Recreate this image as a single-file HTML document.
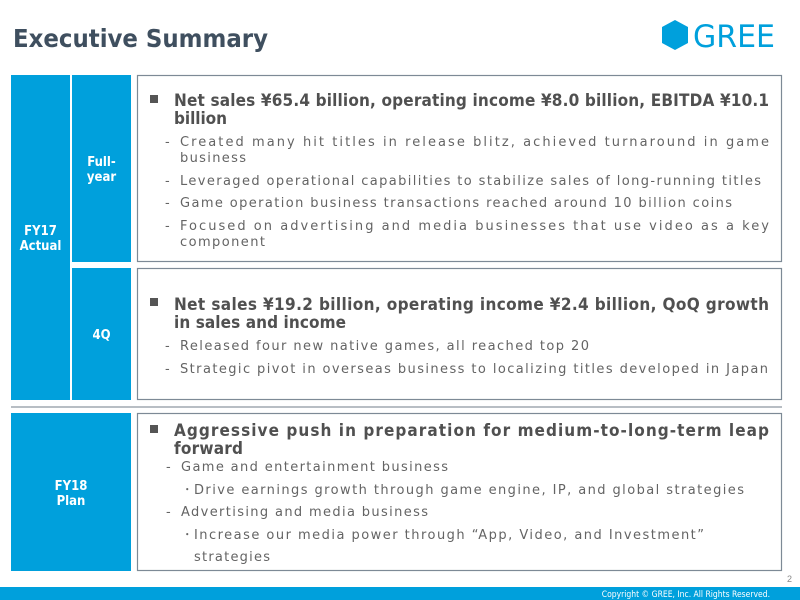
<!DOCTYPE html>
<html><head><meta charset="utf-8"><style>
html,body{margin:0;padding:0;background:#fff;width:800px;height:600px;overflow:hidden}
svg{display:block}
.h{font-family:"DejaVu Sans Condensed","Liberation Sans Narrow","Liberation Sans",sans-serif;font-weight:bold;font-size:17px;fill:#505050}
.t{font-family:"DejaVu Sans","Liberation Sans",sans-serif;font-size:13px;fill:#646464}
.w{font-family:"DejaVu Sans Condensed","Liberation Sans",sans-serif;font-weight:bold;font-size:13px;fill:#fff}
</style></head><body>
<svg width="800" height="600" viewBox="0 0 800 600" xmlns="http://www.w3.org/2000/svg">
<text x="13" y="47" textLength="255" lengthAdjust="spacingAndGlyphs" style="font-family:'DejaVu Sans Condensed','Liberation Sans',sans-serif;font-weight:bold;font-size:25px;fill:#3f4f5f">Executive Summary</text>
<polygon points="675,20 688,27 688,43 675,50 662,43 662,27" fill="#00a0dc"/>
<text x="693" y="47" textLength="82" lengthAdjust="spacingAndGlyphs" style="font-family:'DejaVu Sans Condensed','Liberation Sans',sans-serif;font-size:31px;fill:#00a0dc">GREE</text>

<rect x="11" y="75" width="59" height="325" fill="#00a0dc"/>
<rect x="72" y="75" width="59" height="187" fill="#00a0dc"/>
<rect x="72" y="268" width="59" height="132" fill="#00a0dc"/>
<rect x="11" y="413" width="120" height="158" fill="#00a0dc"/>
<text class="w" x="40.5" y="235" text-anchor="middle">FY17</text>
<text class="w" x="40.5" y="250" text-anchor="middle">Actual</text>
<text class="w" x="101.5" y="166" text-anchor="middle">Full-</text>
<text class="w" x="101.5" y="181" text-anchor="middle">year</text>
<text class="w" x="101.5" y="339" text-anchor="middle">4Q</text>
<text class="w" x="71" y="490" text-anchor="middle">FY18</text>
<text class="w" x="71" y="505" text-anchor="middle">Plan</text>

<rect x="137.5" y="75.5" width="644" height="186" fill="#fff" stroke="#7d8a96" stroke-width="1.2"/>
<rect x="137.5" y="268.5" width="644" height="131" fill="#fff" stroke="#7d8a96" stroke-width="1.2"/>
<rect x="137.5" y="413.5" width="644" height="157" fill="#fff" stroke="#7d8a96" stroke-width="1.2"/>
<line x1="11" y1="407" x2="782" y2="407" stroke="#b8bec4" stroke-width="2"/>

<rect x="150" y="95" width="8" height="8" fill="#555"/>
<text class="h" x="174" y="106" textLength="595" lengthAdjust="spacing">Net sales ¥65.4 billion, operating income ¥8.0 billion, EBITDA ¥10.1</text>
<text class="h" x="174" y="124" textLength="53" lengthAdjust="spacing">billion</text>
<text class="t" x="165" y="146">-</text>
<text class="t" x="180" y="146" textLength="589" lengthAdjust="spacing">Created many hit titles in release blitz, achieved turnaround in game</text>
<text class="t" x="180" y="162" textLength="66" lengthAdjust="spacing">business</text>
<text class="t" x="165" y="185">-</text>
<text class="t" x="180" y="185" textLength="581" lengthAdjust="spacing">Leveraged operational capabilities to stabilize sales of long-running titles</text>
<text class="t" x="165" y="207">-</text>
<text class="t" x="180" y="207" textLength="552" lengthAdjust="spacing">Game operation business transactions reached around 10 billion coins</text>
<text class="t" x="165" y="230">-</text>
<text class="t" x="180" y="230" textLength="589" lengthAdjust="spacing">Focused on advertising and media businesses that use video as a key</text>
<text class="t" x="180" y="246" textLength="85" lengthAdjust="spacing">component</text>

<rect x="150" y="298" width="8" height="8" fill="#555"/>
<text class="h" x="174" y="310" textLength="595" lengthAdjust="spacing">Net sales ¥19.2 billion, operating income ¥2.4 billion, QoQ growth</text>
<text class="h" x="174" y="328" textLength="172" lengthAdjust="spacing">in sales and income</text>
<text class="t" x="165" y="350">-</text>
<text class="t" x="180" y="350" textLength="409" lengthAdjust="spacing">Released four new native games, all reached top 20</text>
<text class="t" x="165" y="373">-</text>
<text class="t" x="180" y="373" textLength="588" lengthAdjust="spacing">Strategic pivot in overseas business to localizing titles developed in Japan</text>

<rect x="150" y="425" width="8" height="8" fill="#555"/>
<text class="h" x="174" y="436" textLength="595" lengthAdjust="spacing">Aggressive push in preparation for medium-to-long-term leap</text>
<text class="h" x="174" y="454" textLength="69" lengthAdjust="spacing">forward</text>
<text class="t" x="166" y="471">-</text>
<text class="t" x="181" y="471" textLength="267" lengthAdjust="spacing">Game and entertainment business</text>
<text class="t" x="184" y="494">･</text>
<text class="t" x="194" y="494" textLength="550" lengthAdjust="spacing">Drive earnings growth through game engine, IP, and global strategies</text>
<text class="t" x="166" y="516">-</text>
<text class="t" x="181" y="516" textLength="247" lengthAdjust="spacing">Advertising and media business</text>
<text class="t" x="184" y="539">･</text>
<text class="t" x="194" y="539" textLength="510" lengthAdjust="spacing">Increase our media power through “App, Video, and Investment”</text>
<text class="t" x="194" y="561" textLength="76" lengthAdjust="spacing">strategies</text>

<text x="787" y="582" style="font-family:'Liberation Sans',sans-serif;font-size:9px;fill:#888">2</text>
<rect x="0" y="587" width="800" height="13" fill="#00a0dc"/>
<text x="770" y="597" text-anchor="end" style="font-family:'DejaVu Sans Condensed','Liberation Sans',sans-serif;font-size:8.5px;fill:#fff">Copyright © GREE, Inc. All Rights Reserved.</text>
</svg>
</body></html>
